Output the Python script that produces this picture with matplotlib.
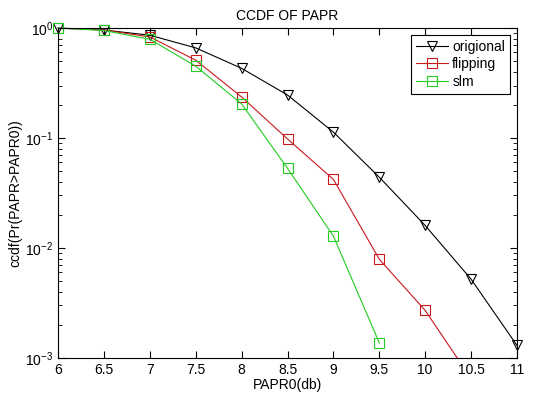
import matplotlib
matplotlib.use("Agg")
from matplotlib import pyplot
from matplotlib.ticker import LogLocator, NullFormatter

papr0 = [6, 6.5, 7, 7.5, 8, 8.5, 9, 9.5, 10, 10.5, 11]
original = [1.0, 0.96, 0.86, 0.66, 0.43, 0.246, 0.113, 0.044, 0.016, 0.0052, 0.0013]
flipping = [1.0, 0.96, 0.83, 0.51, 0.236, 0.098, 0.042, 0.0079, 0.0027, 0.00065]
slm = [1.0, 0.95, 0.79, 0.45, 0.204, 0.053, 0.0128, 0.00137]
xticks = [6, 6.5, 7, 7.5, 8, 8.5, 9, 9.5, 10, 10.5, 11]
xtick_labels = ["6", "6.5", "7", "7.5", "8", "8.5", "9", "9.5", "10", "10.5", "11"]

pyplot.rcParams['font.family'] = ['Liberation Sans', 'DejaVu Sans']
pyplot.rcParams['font.size'] = 10

fig = pyplot.figure(figsize=(5.43, 3.95), dpi=100)
ax = fig.add_axes([0.107, 0.094, 0.845, 0.835])

# markers at the edges are drawn whole, like matlab does
ax.plot(papr0, original, '-v', color='black', lw=0.8, ms=6.5,
        mfc='none', mew=0.8, label='origional', clip_on=False)
ax.plot(papr0[:len(flipping)], flipping, '-s', color='#c8191e', lw=0.8, ms=6.5,
        mfc='none', mew=0.8, label='flipping')
ax.plot(papr0[:len(slm)], slm, '-s', color='#22cc22', lw=0.8, ms=6.5,
        mfc='none', mew=0.8, label='slm', clip_on=False)

ax.set_yscale('log')
ax.set_xlim(6, 11)
ax.set_ylim(1e-3, 1)
ax.set_xticks(xticks)
ax.set_xticklabels(xtick_labels)
ax.yaxis.set_minor_locator(LogLocator(base=10, subs=range(2, 10)))
ax.yaxis.set_minor_formatter(NullFormatter())
ax.tick_params(which='both', direction='in', top=True, right=True)
ax.tick_params(which='major', length=5)
ax.tick_params(which='minor', length=3)
for s in ax.spines.values():
    s.set_linewidth(0.8)

ax.set_title('CCDF OF PAPR', fontsize=10)
ax.set_xlabel('PAPR0(db)', labelpad=1)
ax.set_ylabel('ccdf(Pr(PAPR>PAPR0))', labelpad=2)

leg = ax.legend(loc='upper right', fancybox=False, edgecolor='black',
                framealpha=1, borderaxespad=0.5, handlelength=2.3,
                handletextpad=0.3, borderpad=0.35, labelspacing=0.25)
leg.get_frame().set_linewidth(0.8)

fig.savefig('out.png', dpi=100)
